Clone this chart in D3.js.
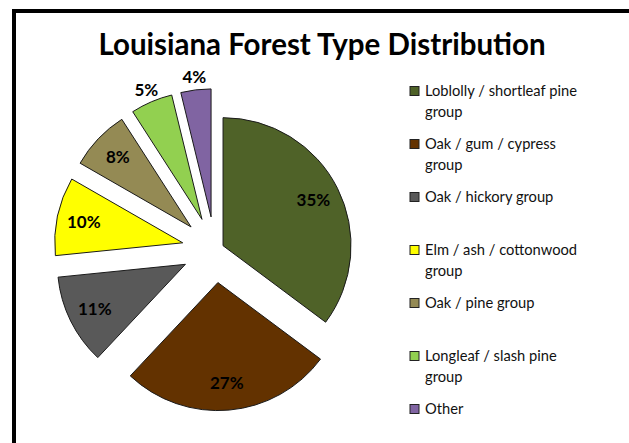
<!DOCTYPE html>
<html>
<head>
<meta charset="utf-8">
<script src="https://cdn.jsdelivr.net/npm/d3@7/dist/d3.min.js"></script>
<style>
  html, body { margin: 0; padding: 0; background: #fff; }
  svg { display: block; }
</style>
</head>
<body>
<svg id="chart" width="629" height="443"></svg>
<script>
// ---- Data ----
const title = "Louisiana Forest Type Distribution";
const categories = [
  "Loblolly / shortleaf pine group",
  "Oak / gum / cypress group",
  "Oak / hickory group",
  "Elm / ash / cottonwood group",
  "Oak / pine group",
  "Longleaf / slash pine group",
  "Other"
];
const values = [35.2, 26.8, 11.4, 9.9, 7.6, 5.3, 3.8];
const colors = ["#4F6228", "#633200", "#595959", "#FFFF00", "#948A54", "#92D050", "#8064A2"];

// ---- Layout ----
const W = 629, H = 443;
const cx = 215, cy = 249.7, R = 128;
const explodeFirst = 9, explodeOthers = 33;
const fontFamily = "Lato, 'Open Sans', 'DejaVu Sans', sans-serif";

const svg = d3.select("#chart");

// chart border (thick black frame, only top and left visible)
svg.append("rect")
  .attr("x", 14).attr("y", 11)
  .attr("width", W + 20).attr("height", H + 20)
  .attr("fill", "#fff")
  .attr("stroke", "#000").attr("stroke-width", 4);

// title
svg.append("text")
  .attr("x", 322).attr("y", 55)
  .attr("text-anchor", "middle")
  .attr("font-family", fontFamily)
  .attr("font-weight", "bold")
  .attr("font-size", 29.5)
  .attr("fill", "#000")
  .text(title);

// pie
const total = d3.sum(values);
const pie = d3.pie().sort(null).value(d => d);
const arcs = pie(values);
const arc = d3.arc().innerRadius(0).outerRadius(R);

const g = svg.append("g").attr("transform", `translate(${cx},${cy})`);

const slices = g.selectAll("g.slice").data(arcs).enter().append("g")
  .attr("class", "slice")
  .attr("transform", (d, i) => {
    const m = (d.startAngle + d.endAngle) / 2;
    const off = i === 0 ? explodeFirst : explodeOthers;
    return `translate(${off * Math.sin(m)},${-off * Math.cos(m)})`;
  });

slices.append("path")
  .attr("d", arc)
  .attr("fill", (d, i) => colors[i])
  .attr("stroke", "#1a1a1a")
  .attr("stroke-width", 1);

const fmt = v => Math.round(v / total * 100) + "%";
slices.append("text")
  .attr("transform", d => {
    const m = (d.startAngle + d.endAngle) / 2;
    const frac = d.value / total * 100;
    const rr = frac < 6 ? R + 13 : R * 0.79;
    return `translate(${rr * Math.sin(m)},${-rr * Math.cos(m)})`;
  })
  .attr("text-anchor", "middle")
  .attr("dy", "0.36em")
  .attr("font-family", fontFamily)
  .attr("font-weight", "bold")
  .attr("font-size", 17)
  .attr("fill", "#000")
  .text(d => fmt(d.value));

// legend
const ly = d3.scalePoint().domain(categories).range([91, 409]);
const lx = 410, textX = 425, maxW = 165, lineH = 21;
const legend = svg.append("g");
categories.forEach((c, i) => {
  const y0 = ly(c);
  legend.append("rect")
    .attr("x", lx).attr("y", y0 - 4.5)
    .attr("width", 9).attr("height", 9)
    .attr("fill", colors[i])
    .attr("stroke", "#222").attr("stroke-width", 1);
  const t = legend.append("text")
    .attr("x", textX).attr("y", y0)
    .attr("dy", "0.35em")
    .attr("font-family", fontFamily)
    .attr("font-size", 14.7)
    .attr("fill", "#111");
  // word wrap
  const words = c.split(" ");
  let line = [];
  let ts = t.append("tspan").attr("x", textX);
  words.forEach(w => {
    line.push(w);
    ts.text(line.join(" "));
    if (ts.node().getComputedTextLength() > maxW && line.length > 1) {
      line.pop();
      ts.text(line.join(" "));
      line = [w];
      ts = t.append("tspan").attr("x", textX).attr("dy", lineH).text(w);
    }
  });
});
</script>
</body>
</html>
